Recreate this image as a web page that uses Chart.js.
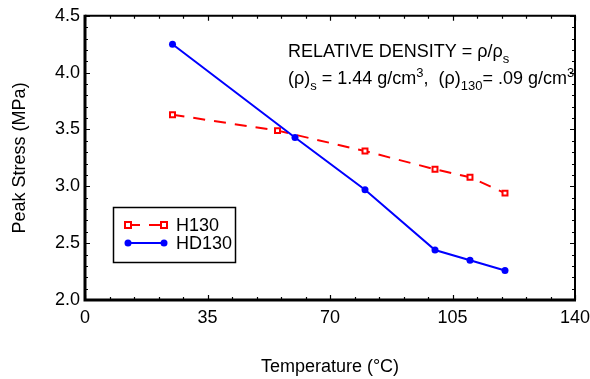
<!DOCTYPE html>
<html>
<head>
<meta charset="utf-8">
<script src="https://cdn.jsdelivr.net/npm/chart.js@4.4.1/dist/chart.umd.min.js"></script>
<style>
    html, body { margin: 0; padding: 0; background: #fff; }
    #wrap { width: 590px; height: 379px; }
</style>
</head>
<body>
<div id="wrap"><canvas id="chart"></canvas></div>
<script>
// Data
const h130Temp = [25, 55, 80, 100, 110, 120];
const h130Stress = [3.63, 3.49, 3.31, 3.15, 3.08, 2.94];
const hd130Temp = [25, 60, 80, 100, 110, 120];
const hd130Stress = [4.25, 3.43, 2.97, 2.44, 2.35, 2.26];

const xTicks = [0, 35, 70, 105, 140];
const yTicks = [2.0, 2.5, 3.0, 3.5, 4.0, 4.5];

const FONT = 'Liberation Sans, Arial, Helvetica, sans-serif';

function toPoints(xs, ys) {
    return xs.map((x, i) => ({ x: x, y: ys[i] }));
}

// frame + inward ticks on all four sides
const framePlugin = {
    id: 'frame',
    afterDatasetsDraw(chart) {
        const ctx = chart.ctx;
        const { left, right, top, bottom } = chart.chartArea;
        const xs = chart.scales.x, ys = chart.scales.y;
        ctx.save();
        ctx.strokeStyle = '#000';

        ctx.lineWidth = 1.2;
        // x ticks: major every 35, minor every 7
        for (let v = 0; v <= 140; v += 7) {
            const px = Math.round(xs.getPixelForValue(v)) + 0.5;
            const len = (v % 35 === 0) ? 5 : 3;
            ctx.beginPath();
            ctx.moveTo(px, bottom); ctx.lineTo(px, bottom - len);
            ctx.moveTo(px, top); ctx.lineTo(px, top + len);
            ctx.stroke();
        }
        // y ticks: major every 0.5, minor every 0.1
        for (let i = 0; i <= 25; i++) {
            const v = 2 + i * 0.1;
            const py = Math.round(ys.getPixelForValue(v)) + 0.5;
            const len = (i % 5 === 0) ? 5 : 3;
            ctx.beginPath();
            ctx.moveTo(left, py); ctx.lineTo(left + len, py);
            ctx.moveTo(right, py); ctx.lineTo(right - len, py);
            ctx.stroke();
        }

        // box
        ctx.lineWidth = 2;
        ctx.beginPath();
        ctx.moveTo(left, top); ctx.lineTo(right, top); ctx.lineTo(right, bottom);
        ctx.stroke();
        ctx.lineWidth = 3;
        ctx.beginPath();
        ctx.moveTo(left, top - 1); ctx.lineTo(left, bottom); ctx.lineTo(right + 1, bottom);
        ctx.stroke();
        ctx.restore();
    }
};

// draws text runs with sub/superscripts
function drawRuns(ctx, x, y, runs) {
    runs.forEach(r => {
        let size = 18, dy = 0;
        if (r.mode === 'sub') { size = 13; dy = 6; }
        if (r.mode === 'sup') { size = 13; dy = -7; }
        ctx.font = size + 'px ' + FONT;
        ctx.fillText(r.t, x, y + dy);
        x += ctx.measureText(r.t).width;
    });
}

const notePlugin = {
    id: 'notes',
    afterDraw(chart) {
        const ctx = chart.ctx;
        ctx.save();
        ctx.fillStyle = '#000';
        ctx.textBaseline = 'alphabetic';
        ctx.textAlign = 'left';
        drawRuns(ctx, 288, 57, [
            { t: 'RELATIVE DENSITY = \u03C1/\u03C1' }, { t: 's', mode: 'sub' }
        ]);
        drawRuns(ctx, 288, 84, [
            { t: '(\u03C1)' }, { t: 's', mode: 'sub' },
            { t: ' = 1.44 g/cm' }, { t: '3', mode: 'sup' },
            { t: ',  (\u03C1)' }, { t: '130', mode: 'sub' },
            { t: '= .09 g/cm' }, { t: '3', mode: 'sup' }
        ]);

        // legend box
        ctx.strokeStyle = '#000';
        ctx.lineWidth = 1.5;
        ctx.strokeRect(113.5, 207.5, 122, 55);

        const rows = [225, 243];
        chart.data.datasets.forEach((ds, i) => {
            const y = rows[i];
            const x1 = 128, x2 = 164;
            ctx.strokeStyle = ds.borderColor;
            ctx.lineWidth = 2;
            ctx.setLineDash(ds.borderDash || []);
            ctx.beginPath();
            ctx.moveTo(x1, y); ctx.lineTo(x2, y);
            ctx.stroke();
            ctx.setLineDash([]);
            [x1, x2].forEach(px => {
                if (ds.pointStyle === 'rect') {
                    ctx.fillStyle = '#fff';
                    ctx.fillRect(px - 3, y - 3, 6, 6);
                    ctx.strokeRect(px - 3, y - 3, 6, 6);
                } else {
                    ctx.fillStyle = ds.pointBackgroundColor;
                    ctx.beginPath();
                    ctx.arc(px, y, 3.5, 0, Math.PI * 2);
                    ctx.fill();
                }
            });
            ctx.fillStyle = '#000';
            ctx.font = '18px ' + FONT;
            ctx.textBaseline = 'middle';
            ctx.fillText(ds.label, 176, y + 1);
        });
        ctx.restore();
    }
};

const ctx = document.getElementById('chart').getContext('2d');
const chart = new Chart(ctx, {
    type: 'line',
    data: {
        datasets: [{
            label: 'H130',
            data: toPoints(h130Temp, h130Stress),
            borderColor: '#ff0000',
            borderWidth: 2,
            borderDash: [12, 9],
            pointStyle: 'rect',
            pointRadius: 3.5,
            pointBorderWidth: 2,
            pointBackgroundColor: '#ffffff',
            pointBorderColor: '#ff0000',
            order: 1
        }, {
            label: 'HD130',
            data: toPoints(hd130Temp, hd130Stress),
            borderColor: '#0000ff',
            borderWidth: 2,
            pointStyle: 'circle',
            pointRadius: 3.5,
            pointBorderWidth: 0,
            pointBackgroundColor: '#0000ff',
            pointBorderColor: '#0000ff',
            order: 0
        }]
    },
    options: {
        responsive: true,
        maintainAspectRatio: false,
        animation: false,
        layout: { padding: { left: 0, right: 15, top: 15, bottom: 0 } },
        plugins: {
            legend: { display: false },
            tooltip: { enabled: false }
        },
        scales: {
            x: {
                type: 'linear',
                min: 0,
                max: 140,
                afterBuildTicks: (scale) => { scale.ticks = xTicks.map(v => ({ value: v })); },
                afterFit: (scale) => {
                    scale.height = 79;
                    scale.paddingLeft = 0;
                    scale.paddingRight = 0;
                },
                grid: { display: false, drawTicks: false },
                border: { display: false },
                ticks: {
                    color: '#000',
                    padding: 7,
                    maxRotation: 0,
                    font: { family: FONT, size: 18 },
                    callback: (v) => String(v)
                },
                title: {
                    display: true,
                    text: 'Temperature (\u00B0C)',
                    color: '#000',
                    font: { family: FONT, size: 18 },
                    padding: { top: 0, bottom: 1 }
                }
            },
            y: {
                type: 'linear',
                min: 2,
                max: 4.5,
                afterBuildTicks: (scale) => { scale.ticks = yTicks.map(v => ({ value: v })); },
                afterFit: (scale) => { scale.width = 85; },
                grid: { display: false, drawTicks: false },
                border: { display: false },
                ticks: {
                    color: '#000',
                    padding: 5,
                    font: { family: FONT, size: 18 },
                    callback: (v) => Number(v).toFixed(1)
                },
                title: {
                    display: true,
                    text: 'Peak Stress (MPa)',
                    color: '#000',
                    font: { family: FONT, size: 18 },
                    padding: { top: 9, bottom: 0 }
                }
            }
        }
    },
    plugins: [framePlugin, notePlugin]
});
</script>
</body>
</html>
